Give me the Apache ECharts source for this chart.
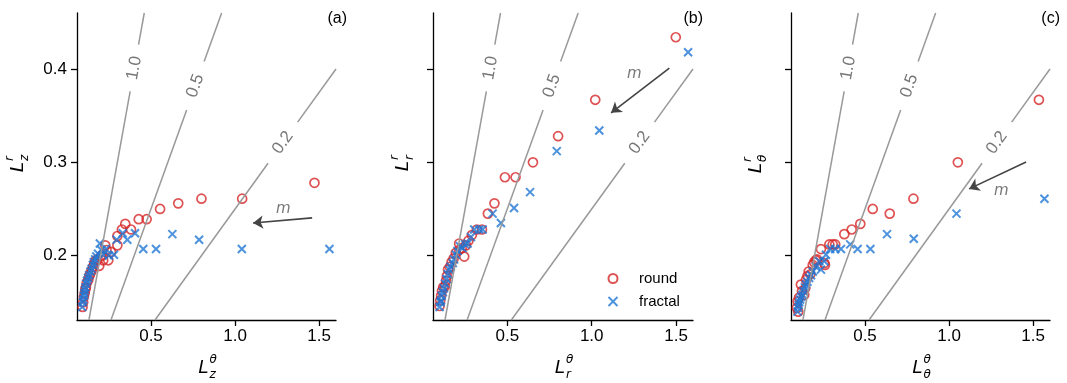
<!DOCTYPE html>
<html>
<head>
<meta charset="utf-8">
<script src="https://cdn.jsdelivr.net/npm/echarts@6/dist/echarts.min.js"></script>
<style>
  html, body { margin: 0; padding: 0; background: #fff; }
  #chart { width: 1067px; height: 383px; }
</style>
</head>
<body>
<div id="chart"></div>
<script>
// tick labels
const xTicks = [0.5, 1.0, 1.5];
const yTicks = [0.2, 0.3, 0.4];

// panel (a): L_z
const roundA = [[0.093,0.145],[0.097,0.150],[0.101,0.156],[0.106,0.160],[0.110,0.164],[0.113,0.166],[0.118,0.171],[0.127,0.174],[0.133,0.178],[0.140,0.181],[0.147,0.184],[0.155,0.188],[0.163,0.192],[0.171,0.195],[0.183,0.196],[0.192,0.189],[0.205,0.200],[0.216,0.195],[0.228,0.211],[0.236,0.206],[0.246,0.195],[0.262,0.204],[0.300,0.211],[0.300,0.221],[0.327,0.228],[0.347,0.234],[0.381,0.228],[0.427,0.239],[0.474,0.239],[0.554,0.250],[0.662,0.256],[0.800,0.261],[1.042,0.261],[1.472,0.278]];
const fractalA = [[0.091,0.145],[0.095,0.150],[0.098,0.153],[0.101,0.157],[0.104,0.160],[0.107,0.163],[0.110,0.166],[0.115,0.170],[0.120,0.173],[0.126,0.176],[0.132,0.179],[0.140,0.183],[0.147,0.186],[0.155,0.190],[0.160,0.193],[0.168,0.196],[0.175,0.199],[0.185,0.202],[0.196,0.213],[0.205,0.206],[0.215,0.201],[0.232,0.207],[0.250,0.200],[0.280,0.201],[0.296,0.217],[0.332,0.224],[0.359,0.217],[0.405,0.224],[0.454,0.207],[0.530,0.207],[0.627,0.223],[0.786,0.217],[1.040,0.207],[1.561,0.207]];

// panel (b): L_r
const roundB = [[0.099,0.146],[0.103,0.152],[0.108,0.157],[0.113,0.162],[0.120,0.166],[0.130,0.167],[0.137,0.173],[0.142,0.178],[0.149,0.185],[0.160,0.188],[0.170,0.193],[0.182,0.197],[0.195,0.203],[0.215,0.206],[0.215,0.213],[0.230,0.208],[0.245,0.199],[0.255,0.211],[0.270,0.216],[0.290,0.222],[0.320,0.228],[0.350,0.228],[0.385,0.245],[0.424,0.256],[0.486,0.284],[0.549,0.284],[0.652,0.300],[0.801,0.328],[1.021,0.367],[1.498,0.434]];
const fractalB = [[0.099,0.145],[0.104,0.150],[0.108,0.152],[0.112,0.157],[0.118,0.161],[0.125,0.165],[0.132,0.170],[0.140,0.175],[0.148,0.180],[0.157,0.185],[0.165,0.188],[0.177,0.192],[0.185,0.196],[0.196,0.201],[0.205,0.205],[0.220,0.210],[0.235,0.208],[0.250,0.212],[0.265,0.213],[0.285,0.220],[0.304,0.228],[0.334,0.228],[0.354,0.228],[0.413,0.245],[0.462,0.235],[0.540,0.251],[0.635,0.268],[0.793,0.312],[1.045,0.334],[1.571,0.418]];

// panel (c): L_theta
const roundC = [[0.103,0.140],[0.095,0.144],[0.099,0.151],[0.108,0.155],[0.119,0.169],[0.125,0.162],[0.139,0.158],[0.145,0.165],[0.149,0.174],[0.158,0.178],[0.165,0.183],[0.175,0.180],[0.189,0.190],[0.198,0.193],[0.208,0.195],[0.214,0.196],[0.238,0.207],[0.258,0.192],[0.262,0.190],[0.288,0.212],[0.308,0.212],[0.323,0.212],[0.377,0.223],[0.421,0.228],[0.472,0.234],[0.546,0.250],[0.647,0.245],[0.788,0.261],[1.052,0.300],[1.534,0.367]];
const fractalC = [[0.099,0.140],[0.102,0.144],[0.105,0.147],[0.109,0.150],[0.114,0.153],[0.120,0.156],[0.129,0.158],[0.135,0.162],[0.142,0.166],[0.149,0.169],[0.158,0.172],[0.168,0.176],[0.179,0.179],[0.190,0.183],[0.208,0.188],[0.228,0.194],[0.238,0.185],[0.258,0.194],[0.268,0.201],[0.293,0.207],[0.323,0.207],[0.357,0.207],[0.412,0.212],[0.456,0.207],[0.532,0.207],[0.631,0.223],[0.790,0.218],[1.044,0.245],[1.567,0.261]];

// contour lines L^r = k * L^theta
const contourSlopes = [1.0, 0.5, 0.25];
const contourLabels = ['1.0', '0.5', '0.2'];
const contourLabelY = [0.401, 0.382, 0.321];
const contourGapHalf = [0.025, 0.026, 0.022];

// "m" arrows
const arrowStart = [[1.458, 0.2404], [1.46, 0.401], [1.458, 0.3004]];
const arrowEnd = [[1.107, 0.235], [1.115, 0.353], [1.119, 0.2715]];
const mLabelPos = [[1.286, 0.250], [1.252, 0.395], [1.31, 0.269]];

const panelNames = ['(a)', '(b)', '(c)'];
const axisSubs = ['z', 'r', 'θ'];
const roundData = [roundA, roundB, roundC];
const fractalData = [fractalA, fractalB, fractalC];

const xMin = 0.06, xMax = 1.6, yMin = 0.131, yMax = 0.46;
const grids = [
  { left: 77, top: 13, width: 259, height: 307 },
  { left: 433, top: 13, width: 260, height: 307 },
  { left: 791, top: 13, width: 259, height: 307 },
];

const font = '"Liberation Sans", Arial, sans-serif';
const red = '#d62728';
const blue = '#1f77d4';

const chart = echarts.init(document.getElementById('chart'));

const xAxes = [], yAxes = [], series = [], graphics = [];

function axisTitle(x, y, sub, rotated) {
  return {
    type: 'group', x: x, y: y, rotation: rotated ? Math.PI / 2 : 0,
    children: [
      { type: 'text', x: -4, y: 0, style: { text: 'L', font: 'italic 19px ' + font, fill: '#000', align: 'center', verticalAlign: 'middle' } },
      { type: 'text', x: 2, y: -8, style: { text: rotated ? 'r' : 'θ', font: 'italic 12px "DejaVu Sans", sans-serif', fill: '#000', align: 'left', verticalAlign: 'middle' } },
      { type: 'text', x: 2, y: 7, style: { text: sub, font: 'italic 12px "DejaVu Sans", sans-serif', fill: '#000', align: 'left', verticalAlign: 'middle' } },
    ],
  };
}

grids.forEach((g, i) => {
  const pxX = g.width / (xMax - xMin);
  const pxY = g.height / (yMax - yMin);

  xAxes.push({
    gridIndex: i, type: 'value', min: xMin, max: xMax,
    axisLine: { show: true, onZero: false, lineStyle: { color: '#000', width: 1.3 } },
    axisTick: { show: true, length: 6, customValues: xTicks, lineStyle: { color: '#000', width: 1.3 } },
    axisLabel: { customValues: xTicks, formatter: (v) => v.toFixed(1), color: '#000', fontSize: 17, fontFamily: font, margin: 8 },
    splitLine: { show: false },
  });
  yAxes.push({
    gridIndex: i, type: 'value', min: yMin, max: yMax,
    axisLine: { show: true, onZero: false, lineStyle: { color: '#000', width: 1.3 } },
    axisTick: { show: true, length: 6, customValues: yTicks, lineStyle: { color: '#000', width: 1.3 } },
    axisLabel: { show: i === 0, customValues: yTicks, formatter: (v) => v.toFixed(1), color: '#000', fontSize: 17, fontFamily: font, margin: 10 },
    splitLine: { show: false },
  });

  // contour lines with gaps for inline labels
  const segs = [];
  const labelPts = [];
  contourSlopes.forEach((k, j) => {
    const lo = contourLabelY[j] - contourGapHalf[j];
    const hi = contourLabelY[j] + contourGapHalf[j];
    const top = Math.min(yMax, k * xMax);
    segs.push([{ coord: [yMin / k, yMin] }, { coord: [lo / k, lo] }]);
    segs.push([{ coord: [hi / k, hi] }, { coord: [top / k, top] }]);
    const ang = Math.atan(k * pxY / pxX) * 180 / Math.PI;
    labelPts.push({ value: [contourLabelY[j] / k, contourLabelY[j]], name: contourLabels[j], label: { rotate: ang } });
  });
  series.push({
    type: 'line', xAxisIndex: i, yAxisIndex: i, data: [], silent: true,
    markLine: {
      silent: true, symbol: ['none', 'none'], label: { show: false },
      lineStyle: { color: '#999', width: 1.5, type: 'solid' },
      data: segs,
    },
  });
  series.push({
    type: 'scatter', xAxisIndex: i, yAxisIndex: i, symbolSize: 0, silent: true,
    data: labelPts,
    label: { show: true, position: 'inside', formatter: '{b}', color: '#555', fontSize: 17, fontFamily: font },
  });

  // arrow and "m"
  series.push({
    type: 'scatter', xAxisIndex: i, yAxisIndex: i, symbolSize: 0, silent: true,
    data: [{ value: mLabelPos[i], name: 'm' }],
    label: { show: true, position: 'inside', formatter: '{b}', color: '#555', fontSize: 15, fontStyle: 'italic', fontFamily: '"DejaVu Sans", sans-serif' },
  });
  series.push({
    type: 'line', xAxisIndex: i, yAxisIndex: i, data: [], silent: true,
    markLine: {
      silent: true, symbol: ['none', 'arrow'], symbolSize: 10, label: { show: false },
      itemStyle: { color: '#444' },
      lineStyle: { color: '#444', width: 1.6, type: 'solid' },
      data: [[{ coord: arrowStart[i] }, { coord: arrowEnd[i] }]],
    },
  });

  series.push({
    name: 'round', type: 'scatter', xAxisIndex: i, yAxisIndex: i,
    symbol: 'circle', symbolSize: 9,
    itemStyle: { color: 'rgba(0,0,0,0)', borderColor: red, borderWidth: 1.7 },
    data: roundData[i],
  });
  series.push({
    name: 'fractal', type: 'scatter', xAxisIndex: i, yAxisIndex: i,
    symbol: 'path://M0,0L10,10M10,0L0,10', symbolSize: 8,
    itemStyle: { color: 'none', borderColor: blue, borderWidth: 2 },
    data: fractalData[i],
  });

  // titles and panel letter
  const cx = g.left + g.width / 2;
  graphics.push(axisTitle(cx + 1, 368, axisSubs[i], false));
  graphics.push({
    type: 'text', x: [347, 703, 1060][i], y: 19,
    style: { text: panelNames[i], font: '16px ' + font, fill: '#000', align: 'right', verticalAlign: 'middle' },
  });
});

graphics.push(axisTitle(18, 163, 'z', true));
graphics.push(axisTitle(403, 162, 'r', true));
graphics.push(axisTitle(756, 164, 'θ', true));

chart.setOption({
  animation: false,
  backgroundColor: '#fff',
  grid: grids,
  xAxis: xAxes,
  yAxis: yAxes,
  legend: {
    data: ['round', 'fractal'],
    orient: 'vertical', left: 601, top: 266,
    itemWidth: 14, itemHeight: 9, itemGap: 8,
    textStyle: { fontSize: 15, fontFamily: font, color: '#000', padding: [0, 0, 0, 14] },
  },
  series: series,
  graphic: graphics,
});
</script>
</body>
</html>
